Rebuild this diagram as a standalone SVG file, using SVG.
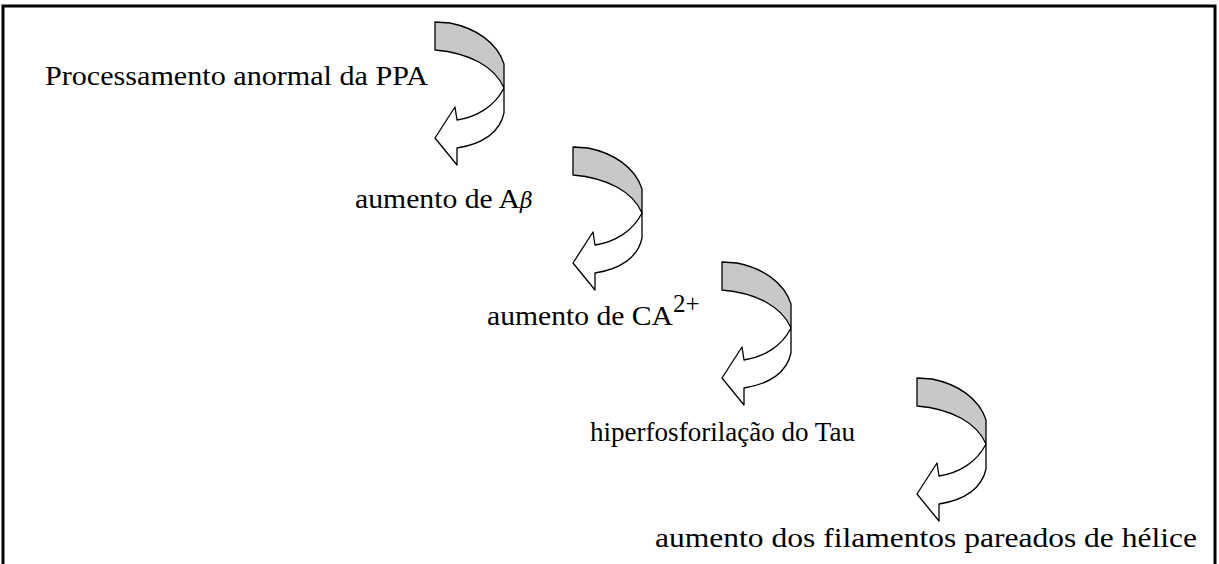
<svg xmlns="http://www.w3.org/2000/svg" width="1219" height="564" viewBox="0 0 1219 564">
  <style>
    .frame { fill: none; stroke: #000; stroke-width: 3; }
    .band { fill: #c8c8c8; stroke: #000; stroke-width: 1.3; stroke-linejoin: round; }
    .head { fill: #fff; stroke: #000; stroke-width: 1.3; stroke-linejoin: round; }
    .lbl { font-family: "Liberation Serif", "Times New Roman", serif; font-size: 27px; fill: #000; }
  </style>
  <defs>
    <!-- curved arrow turning down and back to the left -->
    <g id="curved-arrow">
      <path class="head" d="M69,66 C60,84 42,95 22,98 L20,85 L0,116 L22,143 L22,126 C48,122 65,110 69,91 Z"/>
      <path class="band" d="M0,0 L15,1 C40,6 62,20 69,42 L69,66 C60,45 35,31 0,28 Z"/>
    </g>
  </defs>
  <rect width="1219" height="564" fill="#fff"/>
  <path class="frame" d="M3,566 L3,6 L1215,6 L1215,566"/>

  <g id="connectors">
    <use href="#curved-arrow" x="435" y="22"/>
    <use href="#curved-arrow" x="573" y="147"/>
    <use href="#curved-arrow" x="722" y="262"/>
    <use href="#curved-arrow" x="917" y="378"/>
  </g>

  <g id="step1">
    <text class="lbl" x="45" y="85" textLength="383" lengthAdjust="spacingAndGlyphs">Processamento anormal da PPA</text>
  </g>
  <g id="step2">
    <text class="lbl" x="355" y="208"><tspan textLength="165" lengthAdjust="spacingAndGlyphs">aumento de A</tspan><tspan font-style="italic" font-family="'DejaVu Serif', serif" font-size="22">β</tspan></text>
  </g>
  <g id="step3">
    <text class="lbl" x="487" y="325"><tspan textLength="186" lengthAdjust="spacingAndGlyphs">aumento de CA</tspan><tspan dy="-13" font-size="25">2+</tspan></text>
  </g>
  <g id="step4">
    <text class="lbl" x="590" y="441" textLength="265" lengthAdjust="spacingAndGlyphs">hiperfosforilação do Tau</text>
  </g>
  <g id="step5">
    <text class="lbl" x="655" y="547" textLength="542" lengthAdjust="spacingAndGlyphs">aumento dos filamentos pareados de hélice</text>
  </g>
</svg>
